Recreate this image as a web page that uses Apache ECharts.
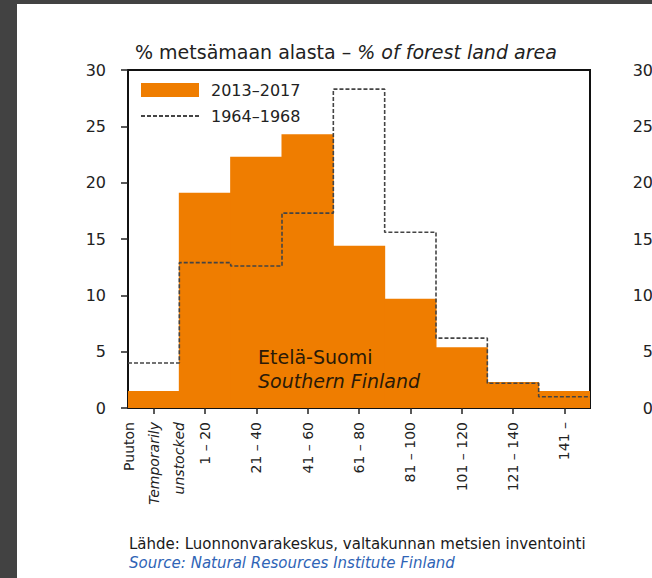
<!DOCTYPE html>
<html>
<head>
<meta charset="utf-8">
<script src="https://cdn.jsdelivr.net/npm/echarts@6/dist/echarts.min.js"></script>
<style>
  html, body { margin: 0; padding: 0; background: #ffffff; }
  #chart { width: 652px; height: 578px; }
</style>
</head>
<body>
<div id="chart"></div>
<script>
// ---- data ----
const categories = ['Puuton\nTemporarily\nunstocked', '1 – 20', '21 – 40', '41 – 60', '61 – 80', '81 – 100', '101 – 120', '121 – 140', '141 –'];
const series2013_2017 = [1.5, 19.1, 22.3, 24.3, 14.4, 9.7, 5.4, 2.3, 1.5];
const series1964_1968 = [4.0, 12.9, 12.6, 17.3, 28.3, 15.6, 6.2, 2.2, 1.0];
const yMin = 0, yMax = 30, yInterval = 5;
const legendNames = ['2013–2017', '1964–1968'];
const titleNormal = '% metsämaan alasta – ';
const titleItalic = '% of forest land area';
const regionFi = 'Etelä-Suomi';
const regionEn = 'Southern Finland';
const sourceFi = 'Lähde: Luonnonvarakeskus, valtakunnan metsien inventointi';
const sourceEn = 'Source: Natural Resources Institute Finland';

// ---- build ----
const FONT = 'DejaVu Sans';
const ORANGE = '#ef7d00';
const stepData = series1964_1968.map((v, i) => [i, v]).concat([[series1964_1968.length, series1964_1968[series1964_1968.length - 1]]]);

const chart = echarts.init(document.getElementById('chart'), null, { renderer: 'svg' });
chart.setOption({
  backgroundColor: '#ffffff',
  animation: false,
  title: {
    text: '{a|' + titleNormal + '}{b|' + titleItalic + '}',
    left: 135,
    top: 42,
    padding: 0,
    textStyle: {
      fontWeight: 'normal',
      rich: {
        a: { fontFamily: FONT, fontSize: 19, fontWeight: 'normal', color: '#222' },
        b: { fontFamily: FONT, fontSize: 19, fontWeight: 'normal', color: '#222', fontStyle: 'italic' }
      }
    }
  },
  legend: {
    orient: 'vertical',
    left: 140,
    top: 82,
    itemWidth: 58,
    itemHeight: 14,
    itemGap: 10,
    padding: 0,
    selectedMode: false,
    textStyle: { fontFamily: FONT, fontSize: 16, color: '#222', padding: [0, 0, 0, 7] },
    data: [
      { name: legendNames[0], icon: 'rect' },
      { name: legendNames[1], itemStyle: { opacity: 0 } }
    ]
  },
  grid: [
    { left: 128, right: 62, top: 70, bottom: 170, show: true, borderColor: '#111', borderWidth: 2, backgroundColor: 'transparent' },
    { left: 675, width: 200, top: 70, bottom: 170 }
  ],
  xAxis: [
    {
      type: 'category', gridIndex: 0, data: categories,
      axisLine: { show: true, lineStyle: { color: '#111', width: 2 } },
      axisTick: { show: true, alignWithLabel: true, length: 6, lineStyle: { color: '#222', width: 1.5 } },
      axisLabel: {
        rotate: 90, margin: 14, interval: 0,
        formatter: function (val) {
          const lines = val.split('\n');
          return lines.map((l, k) => (k === 0 ? '{n|' + l + '}' : '{i|' + l + '}')).join('\n');
        },
        rich: {
          n: { fontFamily: FONT, fontSize: 14, color: '#222', lineHeight: 25 },
          i: { fontFamily: FONT, fontSize: 14, color: '#222', fontStyle: 'italic', lineHeight: 25 }
        }
      }
    },
    { type: 'value', gridIndex: 0, min: 0, max: categories.length, show: false },
    { type: 'category', gridIndex: 1, data: categories, show: false }
  ],
  yAxis: [
    {
      type: 'value', gridIndex: 0, min: yMin, max: yMax, interval: yInterval,
      axisLine: { show: true, lineStyle: { color: '#111', width: 2 } },
      axisTick: { show: true, length: 7, lineStyle: { color: '#222', width: 1.5 } },
      splitLine: { show: false },
      axisLabel: { fontFamily: FONT, fontSize: 16, color: '#222', margin: 22 }
    },
    {
      type: 'value', gridIndex: 1, min: yMin, max: yMax, interval: yInterval,
      axisLine: { show: false }, axisTick: { show: false }, splitLine: { show: false },
      axisLabel: { fontFamily: FONT, fontSize: 16, color: '#222', margin: 22 }
    }
  ],
  series: [
    {
      name: legendNames[0], type: 'bar', xAxisIndex: 0, yAxisIndex: 0,
      data: series2013_2017, barWidth: '102%',
      itemStyle: { color: ORANGE, borderColor: ORANGE, borderWidth: 0 }, z: 2
    },
    {
      name: legendNames[1], type: 'line', xAxisIndex: 1, yAxisIndex: 0,
      data: stepData, step: 'end', symbol: 'none',
      itemStyle: { color: '#444' },
      lineStyle: { color: '#444', width: 1.6, type: [4, 2] }, z: 3
    }
  ],
  graphic: [
    { type: 'rect', left: 0, top: 0, shape: { width: 17, height: 578 }, style: { fill: '#424242' }, z: 100 },
    { type: 'rect', left: 0, top: 0, shape: { width: 652, height: 4 }, style: { fill: '#424242' }, z: 100 },
    { type: 'text', left: 258, top: 347, style: { text: regionFi, font: '19px "DejaVu Sans"', fill: '#2a1a08' }, z: 50 },
    { type: 'text', left: 258, top: 371, style: { text: regionEn, font: 'italic 19px "DejaVu Sans"', fill: '#2a1a08' }, z: 50 },
    { type: 'text', left: 129, top: 536, style: { text: sourceFi, font: '15px "DejaVu Sans"', fill: '#1a1a1a' } },
    { type: 'text', left: 129, top: 555, style: { text: sourceEn, font: 'italic 15px "DejaVu Sans"', fill: '#2f64b6' } }
  ]
});
</script>
</body>
</html>
